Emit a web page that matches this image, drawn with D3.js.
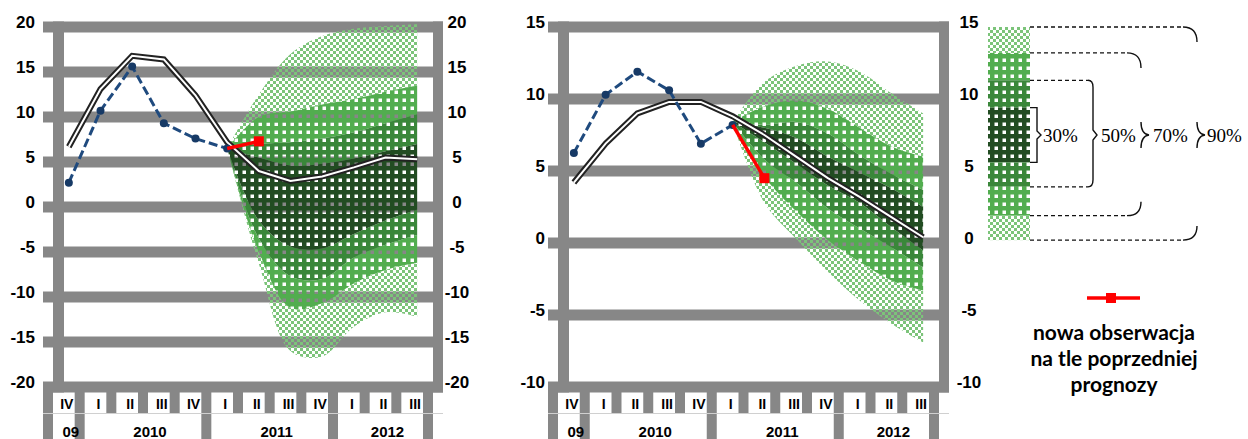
<!DOCTYPE html>
<html>
<head>
<meta charset="utf-8">
<script src="https://cdn.jsdelivr.net/npm/d3@7"></script>
<style>
  body { margin: 0; background: #fff; }
  svg { display: block; }
</style>
</head>
<body>
<div id="chart"></div>
<script>
// ---- data ----
const quarters = ["IV", "I", "II", "III", "IV", "I", "II", "III", "IV", "I", "II", "III"];
const yearLabels = ["09", "2010", "2011", "2012"];
const yearStarts = [0, 1, 5, 9, 12]; // category index where each year group starts
const fanStart = 5;                  // fan runs from this quarter to the last one

// left panel
const leftTicks = [20, 15, 10, 5, 0, -5, -10, -15, -20];
const leftActual = [2.7, 10.7, 15.6, 9.3, 7.6, 6.5];
const leftNew = 7.3;
const leftPrev = [6.7, 13.1, 16.8, 16.4, 12.4, 7.2, 4.0, 2.9, 3.4, 4.4, 5.5, 5.3];
const leftHi90 = [6.5, 12.5, 17.0, 19.0, 19.8, 20.1, 20.3];
const leftHi70 = [6.5, 10.0, 10.6, 11.4, 12.0, 12.8, 13.5];
const leftHi50 = [6.5, 7.0, 7.2, 7.6, 8.3, 9.3, 10.3];
const leftHi30 = [6.5, 5.5, 4.6, 4.8, 5.4, 6.2, 7.0];
const leftLo30 = [6.5, -1.5, -4.4, -4.6, -3.0, -1.5, -0.3];
const leftLo50 = [6.5, -3.5, -7.7, -8.0, -5.6, -4.2, -3.1];
const leftLo70 = [6.5, -5.0, -11.2, -10.7, -8.5, -7.0, -6.2];
const leftLo90 = [6.5, -6.3, -16.0, -16.6, -13.3, -11.7, -12.2];

// right panel
const rightTicks = [15, 10, 5, 0, -5, -10];
const rightActual = [6.25, 10.3, 11.9, 10.6, 6.9, 8.2];
const rightNew = 4.5;
const rightPrev = [4.2, 6.9, 9.0, 9.8, 9.8, 8.8, 7.5, 6.0, 4.5, 3.2, 1.8, 0.4];
const rightHi90 = [8.4, 11.2, 12.3, 12.6, 11.9, 10.4, 9.0];
const rightHi70 = [8.4, 9.5, 9.9, 9.3, 8.0, 6.7, 6.0];
const rightHi50 = [8.4, 8.2, 8.4, 7.6, 6.1, 4.8, 3.7];
const rightHi30 = [8.4, 8.0, 7.3, 6.0, 4.9, 3.8, 2.5];
const rightLo30 = [8.4, 7.0, 5.5, 4.0, 2.8, 1.1, -0.5];
const rightLo50 = [8.4, 5.8, 4.2, 2.4, 1.0, -0.3, -1.7];
const rightLo70 = [8.4, 4.6, 2.2, 0.2, -1.3, -2.6, -3.3];
const rightLo90 = [8.4, 2.8, 0.3, -2.0, -4.0, -5.6, -6.9];

// legend (in right panel units) and texts
const legendEdges = [15, 13.2, 11.3, 9.4, 5.6, 3.9, 1.9, 0.2];
const legendFills = ["p90", "p70", "p50", "p30", "p50", "p70", "p90"];
const bandLabels = ["30%", "50%", "70%", "90%"];
const newObsText = ["nowa obserwacja", "na tle poprzedniej", "prognozy"];

// ---- setup ----
const grey = "#878787";
const svg = d3.select("#chart").append("svg")
  .attr("width", 1248)
  .attr("height", 439);
const defs = svg.append("defs");

// fan patterns (white parts are holes)
function holePattern(id, color) {
  defs.append("pattern")
    .attr("id", id)
    .attr("patternUnits", "userSpaceOnUse")
    .attr("width", 8).attr("height", 8)
    .append("path")
    .attr("d", "M0,0H8V8H0Z M2.5,2.5V6H6V2.5Z")
    .attr("fill-rule", "evenodd")
    .attr("fill", color);
}
defs.append("pattern")
  .attr("id", "p90")
  .attr("patternUnits", "userSpaceOnUse")
  .attr("width", 6).attr("height", 6)
  .append("path")
  .attr("d", "M0,0h3v3h-3z M3,3h3v3h-3z")
  .attr("fill", "#7cc47a");
holePattern("p70", "#52ad4f");
holePattern("p50", "#3a873a");
holePattern("p30", "#224c22");

function drawPanel(opt) {
  const x = d3.scaleBand()
    .domain(d3.range(quarters.length))
    .range([opt.x0, opt.x1]);
  const cx = i => x(i) + x.bandwidth() / 2;
  const edge = i => opt.x0 + i * x.step();
  const y = d3.scaleLinear().domain(opt.yDomain).range([387, 27]);
  const top = y(opt.yDomain[1]), bottom = y(opt.yDomain[0]);

  const g = svg.append("g");

  // horizontal gridlines (the lowest is the x axis)
  g.selectAll("rect.grid")
    .data(opt.ticks)
    .join("rect")
    .attr("class", "grid")
    .attr("x", opt.x0 - 10)
    .attr("width", opt.x1 - opt.x0 + 20)
    .attr("y", d => y(d) - 5.5)
    .attr("height", 11)
    .attr("fill", grey);

  // vertical frame bars
  g.append("rect")
    .attr("x", opt.x0).attr("width", 11)
    .attr("y", top - 5.5).attr("height", bottom - top + 11)
    .attr("fill", grey);
  g.append("rect")
    .attr("x", opt.x1).attr("width", 10)
    .attr("y", top - 5.5).attr("height", bottom - top + 11)
    .attr("fill", grey);

  // ticks below the axis
  const boundaries = d3.range(quarters.length + 1);
  g.selectAll("rect.tick")
    .data(boundaries)
    .join("rect")
    .attr("class", "tick")
    .attr("x", d => edge(d) - 10)
    .attr("width", 10)
    .attr("y", bottom + 5)
    .attr("height", d => yearStarts.includes(d) ? 439 - bottom : 21)
    .attr("fill", grey);
  g.append("line")
    .attr("x1", opt.x0 - 10).attr("x2", opt.x1 + 10)
    .attr("y1", bottom + 26.5).attr("y2", bottom + 26.5)
    .attr("stroke", "#d0d0d0");

  // quarter and year labels
  g.selectAll("text.q")
    .data(quarters)
    .join("text")
    .attr("class", "q")
    .attr("x", (d, i) => cx(i) - 2)
    .attr("y", bottom + 22)
    .attr("text-anchor", "middle")
    .style("font", "bold 14px 'Liberation Sans', Arial, sans-serif")
    .text(d => d);
  g.selectAll("text.yr")
    .data(yearLabels)
    .join("text")
    .attr("class", "yr")
    .attr("x", (d, i) => (edge(yearStarts[i]) + edge(yearStarts[i + 1])) / 2 + 2)
    .attr("y", 437)
    .attr("text-anchor", "middle")
    .style("font", "bold 15px 'Liberation Sans', Arial, sans-serif")
    .text(d => d);

  // y labels on both sides
  g.selectAll("text.yl")
    .data(opt.ticks)
    .join("text")
    .attr("class", "yl")
    .attr("x", opt.labelLeft)
    .attr("y", d => y(d) - 4.5)
    .attr("dy", "0.35em")
    .attr("text-anchor", "end")
    .style("font", "bold 17px 'Liberation Sans', Arial, sans-serif")
    .text(d => d);
  g.selectAll("text.yr2")
    .data(opt.ticks)
    .join("text")
    .attr("class", "yr2")
    .attr("x", opt.labelRight)
    .attr("y", d => y(d) - 4.5)
    .attr("dy", "0.35em")
    .attr("text-anchor", "middle")
    .style("font", "bold 17px 'Liberation Sans', Arial, sans-serif")
    .text(d => d);

  // fan chart
  const fanIdx = d3.range(fanStart, quarters.length);
  const f = opt.fan;
  const bands = [
    [f.hi70, f.hi90, "p90"], [f.lo90, f.lo70, "p90"],
    [f.hi50, f.hi70, "p70"], [f.lo70, f.lo50, "p70"],
    [f.hi30, f.hi50, "p50"], [f.lo50, f.lo30, "p50"],
    [f.lo30, f.hi30, "p30"]
  ];
  const area = d3.area()
    .x((d, k) => cx(fanIdx[k]))
    .y0(d => y(d[0]))
    .y1(d => y(d[1]))
    .curve(d3.curveCatmullRom);
  bands.forEach(([a, b, pat]) => {
    g.append("path")
      .datum(d3.zip(a, b))
      .attr("d", area)
      .attr("fill", `url(#${pat})`);
  });

  // previous forecast: double line
  const line = d3.line()
    .x((d, i) => cx(i))
    .y(d => y(d));
  g.append("path")
    .datum(opt.prev)
    .attr("d", line)
    .attr("fill", "none")
    .attr("stroke", "#222")
    .attr("stroke-width", 6);
  g.append("path")
    .datum(opt.prev)
    .attr("d", line)
    .attr("fill", "none")
    .attr("stroke", "#fff")
    .attr("stroke-width", 2);

  // actual data: dashed blue with dots
  g.append("path")
    .datum(opt.actual)
    .attr("d", line)
    .attr("fill", "none")
    .attr("stroke", "#1f4a7e")
    .attr("stroke-width", 3)
    .attr("stroke-dasharray", "9,4");
  g.selectAll("circle.act")
    .data(opt.actual)
    .join("circle")
    .attr("class", "act")
    .attr("cx", (d, i) => cx(i))
    .attr("cy", d => y(d))
    .attr("r", 4)
    .attr("fill", "#173a66");

  // new observation in red
  const last = opt.actual.length - 1;
  g.append("line")
    .attr("x1", cx(last)).attr("y1", y(opt.actual[last]))
    .attr("x2", cx(last + 1)).attr("y2", y(opt.newObs))
    .attr("stroke", "#ff0000")
    .attr("stroke-width", 3.5);
  g.append("rect")
    .attr("x", cx(last + 1) - 5).attr("y", y(opt.newObs) - 5)
    .attr("width", 10).attr("height", 10)
    .attr("fill", "#ff0000");

  return y;
}

drawPanel({
  x0: 53, x1: 433, yDomain: [-20, 20], ticks: leftTicks,
  labelLeft: 35, labelRight: 457,
  actual: leftActual, newObs: leftNew, prev: leftPrev,
  fan: { hi90: leftHi90, hi70: leftHi70, hi50: leftHi50, hi30: leftHi30,
         lo30: leftLo30, lo50: leftLo50, lo70: leftLo70, lo90: leftLo90 }
});

const yR = drawPanel({
  x0: 558, x1: 939, yDomain: [-10, 15], ticks: rightTicks,
  labelLeft: 545, labelRight: 969,
  actual: rightActual, newObs: rightNew, prev: rightPrev,
  fan: { hi90: rightHi90, hi70: rightHi70, hi50: rightHi50, hi30: rightHi30,
         lo30: rightLo30, lo50: rightLo50, lo70: rightLo70, lo90: rightLo90 }
});

// ---- legend: fan swatch ----
const leg = svg.append("g");
const sx = 988, sw = 42, sr = sx + sw;
leg.selectAll("rect.sw")
  .data(legendFills)
  .join("rect")
  .attr("class", "sw")
  .attr("x", sx)
  .attr("width", sw)
  .attr("y", (d, i) => yR(legendEdges[i]))
  .attr("height", (d, i) => yR(legendEdges[i + 1]) - yR(legendEdges[i]))
  .attr("fill", d => `url(#${d})`);

const e = legendEdges.map(v => yR(v));
const mid = (e[3] + e[4]) / 2;

// dashed leaders
const dashes = [[e[0], 1183], [e[1], 1127], [e[2], 1088], [e[5], 1088], [e[6], 1127], [e[7], 1183]];
leg.selectAll("line.dash")
  .data(dashes)
  .join("line")
  .attr("class", "dash")
  .attr("x1", sr).attr("x2", d => d[1])
  .attr("y1", d => d[0]).attr("y2", d => d[0])
  .attr("stroke", "#111")
  .attr("stroke-width", 1.3)
  .attr("stroke-dasharray", "4,3");

const braces = [
  // 30%
  `M${sr},${e[3]}H${sr + 7}V${mid - 4}L${sr + 11},${mid}L${sr + 7},${mid + 4}V${e[4]}H${sr}`,
  // 50%
  `M1088,${e[2]}Q1093,${e[2]} 1093,${e[2] + 7}V${mid - 5}L1097,${mid}L1093,${mid + 5}V${e[5] - 7}Q1093,${e[5]} 1088,${e[5]}`,
  // 70%
  `M1127,${e[1]}Q1141,${e[1]} 1141,${e[1] + 15}`,
  `M1141,${mid - 13}Q1141,${mid - 1} 1149,${mid}Q1141,${mid + 1} 1141,${mid + 13}`,
  `M1127,${e[6]}Q1141,${e[6]} 1141,${e[6] - 14}`,
  // 90%
  `M1183,${e[0]}Q1197,${e[0]} 1197,${e[0] + 15}`,
  `M1197,${mid - 13}Q1197,${mid - 1} 1205,${mid}Q1197,${mid + 1} 1197,${mid + 13}`,
  `M1183,${e[7]}Q1197,${e[7]} 1197,${e[7] - 14}`
];
leg.selectAll("path.brace")
  .data(braces)
  .join("path")
  .attr("class", "brace")
  .attr("d", d => d)
  .attr("fill", "none")
  .attr("stroke", "#111")
  .attr("stroke-width", 1.4);

const labelX = [1043, 1101, 1153, 1207];
leg.selectAll("text.pct")
  .data(bandLabels)
  .join("text")
  .attr("class", "pct")
  .attr("x", (d, i) => labelX[i])
  .attr("y", mid)
  .attr("dy", "0.35em")
  .style("font", "19px 'Liberation Serif', 'Times New Roman', serif")
  .text(d => d);

// ---- legend: new observation ----
leg.append("line")
  .attr("x1", 1087).attr("x2", 1140)
  .attr("y1", 298).attr("y2", 298)
  .attr("stroke", "#ff0000")
  .attr("stroke-width", 3.5);
leg.append("rect")
  .attr("x", 1106).attr("y", 293)
  .attr("width", 10).attr("height", 10)
  .attr("fill", "#ff0000");
leg.selectAll("text.nobs")
  .data(newObsText)
  .join("text")
  .attr("class", "nobs")
  .attr("x", 1114)
  .attr("y", (d, i) => 340 + i * 26)
  .attr("text-anchor", "middle")
  .style("font", "bold 21px Lato, 'Open Sans', sans-serif")
  .text(d => d);
</script>
</body>
</html>
